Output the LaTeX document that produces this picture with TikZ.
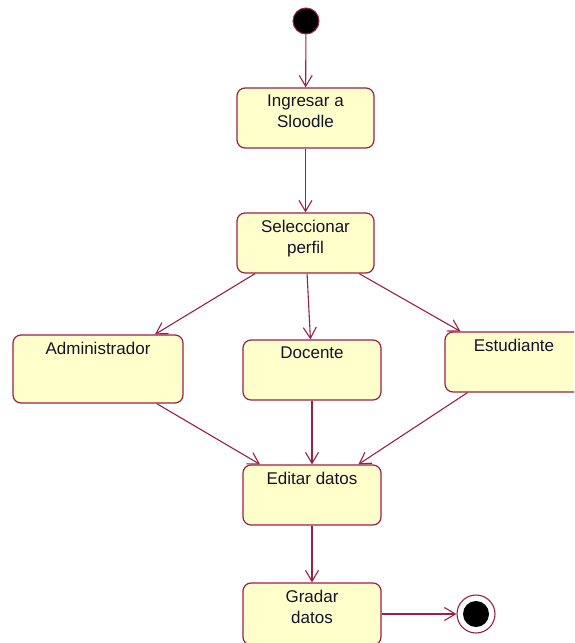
\documentclass[tikz,border=0pt]{standalone}
\usepackage{fontspec}
\setmainfont{Liberation Sans}
\usetikzlibrary{arrows.meta}
\definecolor{umlline}{RGB}{160,30,70}
\definecolor{umlfill}{RGB}{255,255,204}
\definecolor{umltext}{RGB}{20,20,40}
\begin{document}
\begin{tikzpicture}[x=1pt,y=-1pt,
  caption/.style={anchor=north, yshift=-7.5pt, inner sep=0pt, align=center,
    font=\fontsize{17}{21}\selectfont, text=umltext},
  activity/.style={draw=umlline, fill=umlfill, line width=1.2pt,
    rounded corners=8pt, inner sep=0pt, label={[caption]north:#1}},
  flow/.style={draw=umlline, line width=1.1pt,
    -{Straight Barb[length=11pt,width=13pt,line width=1.1pt]}}]
  \useasboundingbox (0,0) rectangle (574,643);
  \clip (0,0) rectangle (574,643);

  % initial and final pseudo-states
  \node[circle, fill=black, draw=umlline, line width=1pt, minimum size=26pt,
    inner sep=0pt] (start) at (306,21) {};
  \node[circle, fill=white, draw=umlline, line width=1.1pt, minimum size=38pt,
    inner sep=0pt] (final) at (476,614) {};
  \node[circle, fill=black, minimum size=26pt, inner sep=0pt] (finaldot) at (final) {};

  % activities
  \node[activity={Ingresar a\\Sloodle}, minimum width=137pt, minimum height=60pt]
    (ingresar) at (305.5,118) {};
  \node[activity={Seleccionar\\perfil}, minimum width=137pt, minimum height=60pt]
    (perfil) at (305.5,243) {};
  \node[activity={Administrador}, minimum width=170pt, minimum height=68pt]
    (admin) at (98,369) {};
  \node[activity={Docente}, minimum width=138pt, minimum height=60pt]
    (docente) at (312,370) {};
  \node[activity={Estudiante}, minimum width=138pt, minimum height=60pt]
    (estudiante) at (514,362) {};
  \node[activity={Editar datos}, minimum width=138pt, minimum height=60pt]
    (editar) at (312,495) {};
  \node[activity={Gradar\\datos}, minimum width=138pt, minimum height=62pt]
    (gradar) at (312,614) {};

  % transitions
  \draw[flow] (start) -- (ingresar);
  \draw[flow] (ingresar) -- (perfil);
  \draw[flow] (perfil) -- (admin);
  \draw[flow] (perfil) -- (docente);
  \draw[flow] (perfil) -- (estudiante);
  \draw[flow] (admin) -- (editar);
  \draw[flow] (docente) -- (editar);
  \draw[flow] (estudiante) -- (editar);
  \draw[flow] (editar) -- (gradar);
  \draw[flow] (gradar) -- (final);
\end{tikzpicture}
\end{document}
